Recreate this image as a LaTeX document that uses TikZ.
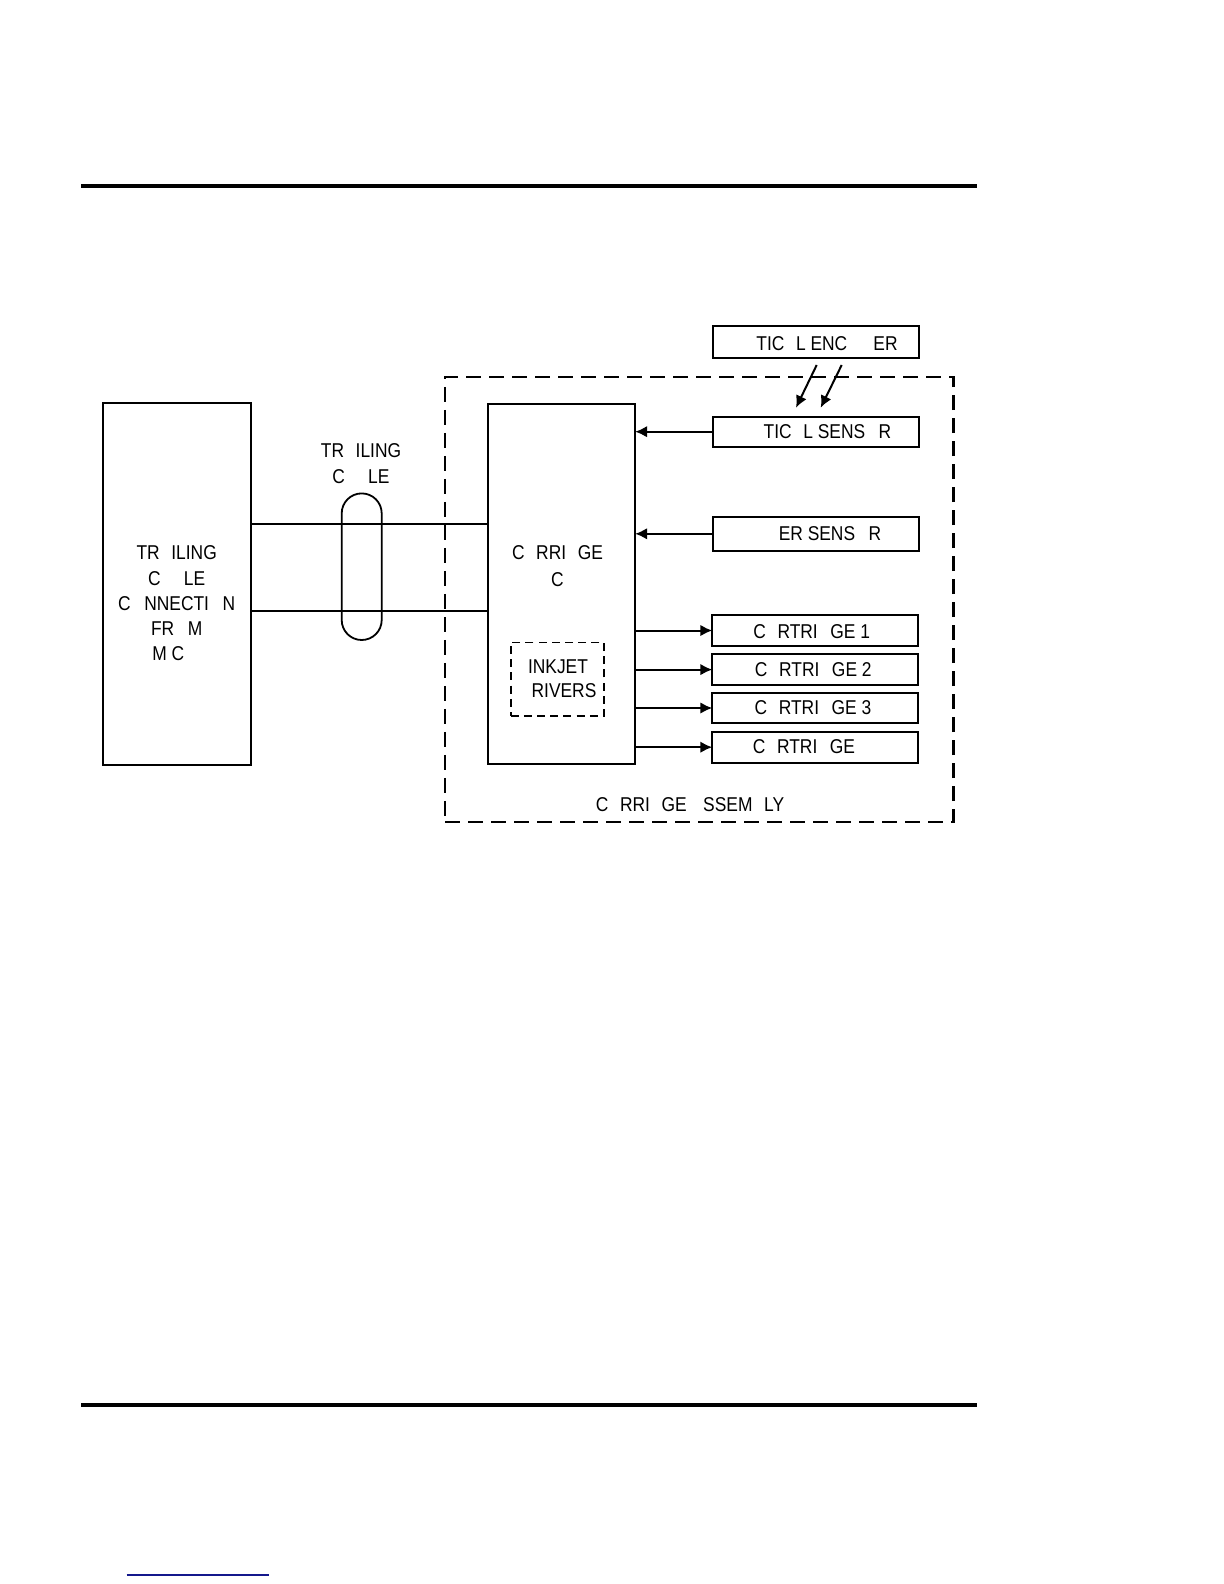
\documentclass[tikz,border=0pt]{standalone}
\usepackage{fontspec}
\setmainfont{Liberation Sans}[FakeStretch=0.87]
\usetikzlibrary{arrows.meta}
\newcommand{\miss}[1]{\hphantom{#1}}
\definecolor{navyline}{RGB}{20,24,140}
\begin{document}
\begin{tikzpicture}[x=0.5pt,y=-0.5pt,
  box/.style={draw,line width=1pt,rectangle,inner sep=0pt,outer sep=0pt},
  dashbox/.style={draw,line width=1.1pt,rectangle,inner sep=0pt,outer sep=0pt,dash pattern=on 7.5pt off 4pt},
  smalldash/.style={draw,line width=0.9pt,rectangle,inner sep=0pt,outer sep=0pt,dash pattern=on 4pt off 2.6pt},
  lbl/.style={inner sep=0pt,font=\fontsize{10}{12}\selectfont},
  wire/.style={line width=0.9pt},
  arr/.style={line width=1pt,-{Latex[length=6pt,width=5.8pt]}},
  rulebar/.style={line width=1.6pt}]
\useasboundingbox (0,0) rectangle (1224,1584);

% page rules
\draw[rulebar] (81,186) -- (977,186);
\draw[rulebar] (81,1405) -- (977,1405);
\draw[navyline,line width=0.8pt] (126.5,1575) -- (269,1575);

% assembly dashed box
\node[dashbox,minimum width=254.2pt,minimum height=222.5pt] (assy) at (699.2,599.2) {};
\node[lbl] (assylbl) at (690,805) {C\miss{A}RRI\miss{A}GE \miss{A}SSEM\miss{B}LY};

% left box
\node[box,minimum width=73.9pt,minimum height=180.8pt] (leftbox) at (177,584.2) {};
\node[lbl] (l1) at (176.7,552.7) {TR\miss{A}ILING};
\node[lbl] (l2) at (176.7,578.3) {C\miss{AB}LE};
\node[lbl] (l3) at (176.7,603.3) {C\miss{O}NNECTI\miss{O}N};
\node[lbl] (l4) at (176.7,628.3) {FR\miss{O}M};
\node[lbl] (l5) at (168.3,653.3) {M C};

% carriage PCA
\node[box,minimum width=73.8pt,minimum height=180.2pt] (pca) at (561.3,584.2) {};
\node[lbl] (p1) at (557.5,552.7) {C\miss{A}RRI\miss{A}GE};
\node[lbl] (p2) at (557.5,579.3) {C};

% inkjet drivers
\node[smalldash,minimum width=46.7pt,minimum height=36.8pt] (ink) at (557.3,679.2) {};
\node[lbl] (i1) at (558,666.7) {INKJET};
\node[lbl] (i2) at (564,690.7) {RIVERS};

% cable
\node[draw,line width=0.9pt,rectangle,rounded corners=10pt,inner sep=0pt,minimum width=20pt,minimum height=73.3pt] (cable) at (361.7,566.7) {};
\node[lbl] (c1) at (361,450.5) {TR\miss{A}ILING};
\node[lbl] (c2) at (361,476.5) {C\miss{AB}LE};

\coordinate (w1) at (0,524.3);
\coordinate (w2) at (0,611);
\draw[wire] (leftbox.east |- w1) -- (pca.west |- w1);
\draw[wire] (leftbox.east |- w2) -- (pca.west |- w2);

% encoder and sensors
\node[box,minimum width=103.2pt,minimum height=15.8pt] (enc) at (815.9,341.8) {};
\node[lbl] (enclbl) at (827,343.5) {TIC\miss{A}L ENC\miss{OD}ER};

\node[box,minimum width=103.2pt,minimum height=15pt] (opt) at (815.9,431.7) {};
\node[lbl] (optlbl) at (827.5,431.7) {TIC\miss{A}L SENS\miss{O}R};

\node[box,minimum width=103.2pt,minimum height=17.2pt] (pap) at (815.9,533.8) {};
\node[lbl] (paplbl) at (830,533.5) {ER SENS\miss{O}R};

\coordinate (e1s) at (816.7,365);
\coordinate (e1e) at (796,407.7);
\coordinate (e2s) at (841.7,365);
\coordinate (e2e) at (820.7,407.7);
\draw[arr] (e1s) -- (e1e);
\draw[arr] (e2s) -- (e2e);

\draw[arr] (opt.west) -- (pca.east |- opt.west);
\draw[arr] (pap.west) -- (pca.east |- pap.west);

% cartridges
\node[box,minimum width=103pt,minimum height=15.35pt] (k1) at (815.3,630.5) {};
\node[box,minimum width=103pt,minimum height=15.35pt] (k2) at (815.3,669.6) {};
\node[box,minimum width=103pt,minimum height=15.35pt] (k3) at (815.3,708) {};
\node[box,minimum width=103pt,minimum height=15.5pt] (k4) at (815.3,747.2) {};
\node[lbl] (k1l) at (811.7,632) {C\miss{A}RTRI\miss{D}GE 1};
\node[lbl] (k2l) at (813.3,669.5) {C\miss{A}RTRI\miss{D}GE 2};
\node[lbl] (k3l) at (813,708) {C\miss{A}RTRI\miss{D}GE 3};
\node[lbl] (k4l) at (804,747) {C\miss{A}RTRI\miss{D}GE};

\draw[arr] (pca.east |- k1.west) -- (k1.west);
\draw[arr] (pca.east |- k2.west) -- (k2.west);
\draw[arr] (pca.east |- k3.west) -- (k3.west);
\draw[arr] (pca.east |- k4.west) -- (k4.west);
\end{tikzpicture}
\end{document}
